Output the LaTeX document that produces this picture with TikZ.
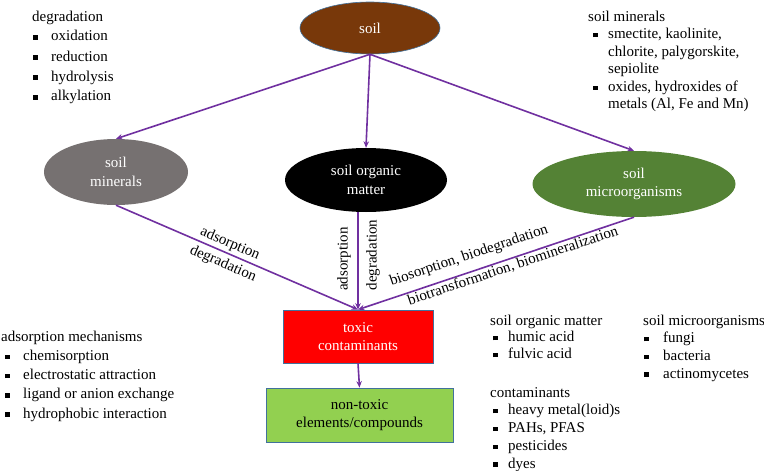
\documentclass[tikz,border=0pt]{standalone}
\usepackage{fontspec}
\setmainfont{Liberation Serif}
\usetikzlibrary{shapes.geometric,arrows.meta,calc}
\definecolor{arrowpurple}{HTML}{7030A0}
\definecolor{soilbrown}{RGB}{120,56,10}
\definecolor{mingray}{RGB}{118,113,113}
\definecolor{microgreen}{RGB}{84,130,53}
\definecolor{nontoxgreen}{HTML}{92D050}
\definecolor{boxedge}{HTML}{41719C}
\newcommand\sqbul[2]{\makebox[#2][l]{\hspace*{#1}\rule[1.4pt]{4.4pt}{4.4pt}}}
\begin{document}
\begin{tikzpicture}[x=1pt,y=-1pt,
  every node/.style={font=\fontsize{15}{18.5}\selectfont},
  blob/.style={ellipse, inner sep=0pt, text=white, align=center},
  boxnode/.style={rectangle, draw=boxedge, line width=0.8pt, align=center, inner sep=0pt},
  flow/.style={draw=arrowpurple, line width=1.6pt, -{Stealth[length=6.5pt,width=5.5pt]}},
  elabel/.style={inner sep=0pt},
  listtxt/.style={anchor=base west, inner sep=0pt}
]
\useasboundingbox (0,0) rectangle (764,471);

% main nodes
\node[blob, fill=soilbrown, draw=boxedge, line width=0.6pt, minimum width=140pt, minimum height=52pt] (soil) at (370,28) {soil};
\node[blob, fill=mingray, minimum width=144pt, minimum height=66pt] (minerals) at (116,172) {soil\\minerals};
\node[blob, fill=black, minimum width=162pt, minimum height=64pt] (organic) at (366,180) {soil organic\\matter};
\node[blob, fill=microgreen, minimum width=203pt, minimum height=66pt] (micro) at (634,184) {soil\\microorganisms};
\node[boxnode, fill=red, text=white, minimum width=150pt, minimum height=53pt] (toxic) at (358,336.5) {toxic\\contaminants};
\node[boxnode, fill=nontoxgreen, minimum width=187pt, minimum height=54pt] (nontox) at (359.5,415) {non-toxic\\elements/compounds};

% connectors
\draw[flow] (soil.south) -- (minerals.north);
\draw[flow] (soil.south) -- (organic.north);
\draw[flow] (soil.south) -- (micro.north);
\draw[flow] (minerals.south) -- (toxic.north);
\coordinate (orgout) at (toxic.north |- organic.south);
\draw[flow] (orgout) -- (toxic.north);
\draw[flow] (micro.south) -- (toxic.north);
\draw[flow] (toxic.south) -- (nontox.north);

% connector labels
\node[elabel, rotate=-23.4] (lminads) at (230,244) {adsorption};
\node[elabel, rotate=-23.4] (lmindeg) at (223,264) {degradation};
\node[elabel, rotate=90] (lorgads) at (344,259) {adsorption};
\node[elabel, rotate=90] (lorgdeg) at (373,255) {degradation};
\node[elabel, rotate=18.6] (lmicro1) at (469,256) {biosorption, biodegradation};
\node[elabel, rotate=18.6] (lmicro2) at (513,266) {biotransformation, biomineralization};

% text blocks
\node[listtxt, font=\fontsize{15}{20}\selectfont] (degblk) at (32,21) {\begin{tabular}[t]{@{}l@{}}
degradation\\
\sqbul{1pt}{19pt}oxidation\\
\sqbul{1pt}{19pt}reduction\\
\sqbul{1pt}{19pt}hydrolysis\\
\sqbul{1pt}{19pt}alkylation
\end{tabular}};

\node[listtxt, font=\fontsize{15}{17.6}\selectfont] (minblk) at (588,21) {\begin{tabular}[t]{@{}l@{}}
soil minerals\\
\sqbul{5pt}{20pt}smectite, kaolinite,\\
\hspace*{20pt}chlorite, palygorskite,\\
\hspace*{20pt}sepiolite\\
\sqbul{5pt}{20pt}oxides, hydroxides of\\
\hspace*{20pt}metals (Al, Fe and Mn)
\end{tabular}};

\node[listtxt, font=\fontsize{15}{19.3}\selectfont] (adsblk) at (1,341) {\begin{tabular}[t]{@{}l@{}}
adsorption mechanisms\\
\sqbul{4pt}{22pt}chemisorption\\
\sqbul{4pt}{22pt}electrostatic attraction\\
\sqbul{4pt}{22pt}ligand or anion exchange\\
\sqbul{4pt}{22pt}hydrophobic interaction
\end{tabular}};

\node[listtxt, font=\fontsize{15}{16.8}\selectfont] (somblk) at (490,325) {\begin{tabular}[t]{@{}l@{}}
soil organic matter\\
\sqbul{3pt}{18pt}humic acid\\
\sqbul{3pt}{18pt}fulvic acid
\end{tabular}};

\node[listtxt, font=\fontsize{15}{17.8}\selectfont] (conblk) at (490,397) {\begin{tabular}[t]{@{}l@{}}
contaminants\\
\sqbul{3pt}{18pt}heavy metal(loid)s\\
\sqbul{3pt}{18pt}PAHs, PFAS\\
\sqbul{3pt}{18pt}pesticides\\
\sqbul{3pt}{18pt}dyes
\end{tabular}};

\node[listtxt, font=\fontsize{15}{17.7}\selectfont] (micblk) at (643,325) {\begin{tabular}[t]{@{}l@{}}
soil microorganisms\\
\sqbul{1pt}{20pt}fungi\\
\sqbul{1pt}{20pt}bacteria\\
\sqbul{1pt}{20pt}actinomycetes
\end{tabular}};
\end{tikzpicture}
\end{document}
